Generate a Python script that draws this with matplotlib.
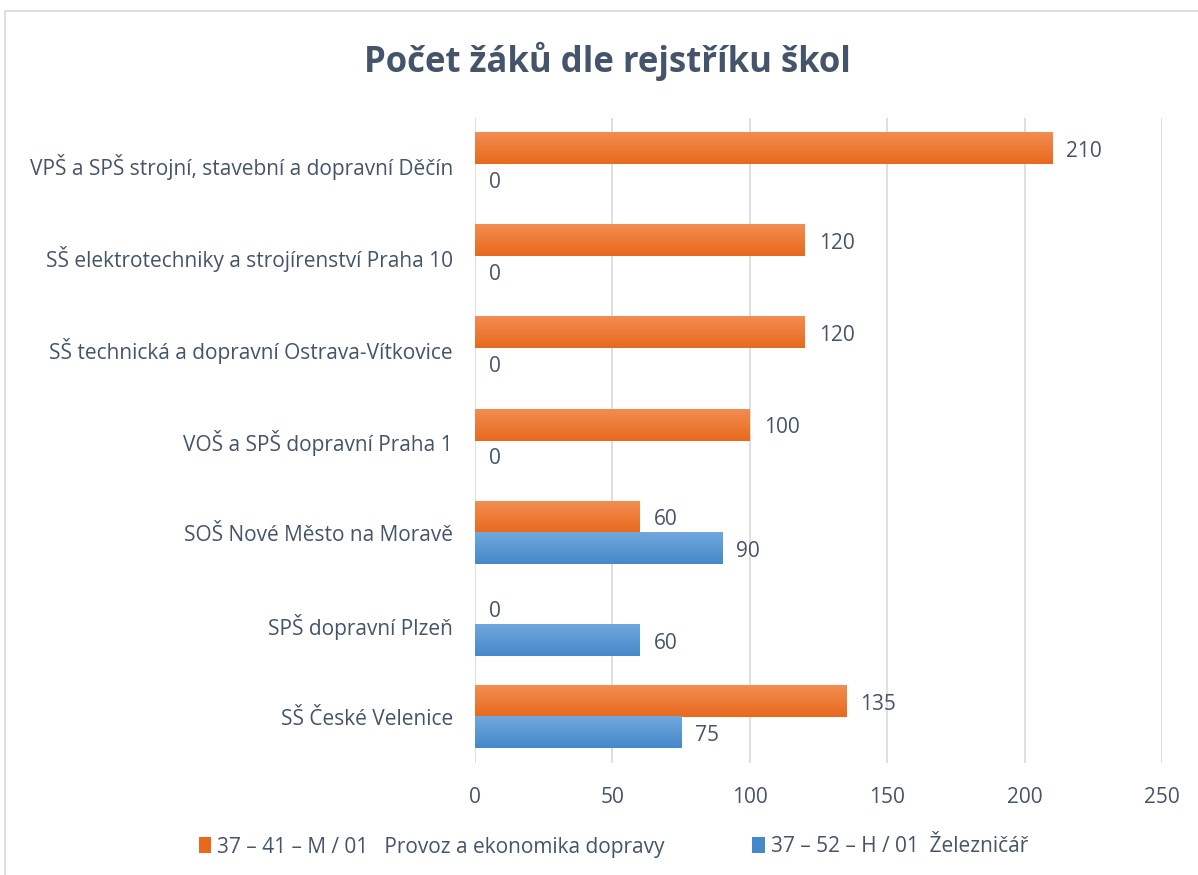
import numpy as np
import matplotlib.pyplot as plt
from matplotlib.patches import Rectangle, Patch
from matplotlib.colors import LinearSegmentedColormap

plt.rcParams["font.family"] = ["Open Sans", "DejaVu Sans"]

schools = [
    "VPŠ a SPŠ strojní, stavební a dopravní Děčín",
    "SŠ elektrotechniky a strojírenství Praha 10",
    "SŠ technická a dopravní Ostrava-Vítkovice",
    "VOŠ a SPŠ dopravní Praha 1",
    "SOŠ Nové Město na Moravě",
    "SPŠ dopravní Plzeň",
    "SŠ České Velenice",
]
provoz = [210, 120, 120, 100, 60, 0, 135]
zeleznicar = [0, 0, 0, 0, 90, 60, 75]
series_names = [
    "37 – 41 – M / 01   Provoz a ekonomika dopravy",
    "37 – 52 – H / 01  Železničář",
]
xticks = [0, 50, 100, 150, 200, 250]

text_col = "#44546A"
orange = ("#F28D52", "#E8691C")
blue = ("#70A7DD", "#4689CA")
fs = 15

fig = plt.figure(figsize=(11.98, 8.75), dpi=100)
ax = fig.add_axes([0.3965, 0.128, 0.5735, 0.737])

# thin chart border
fig.patches.append(Rectangle((0.004, -0.01), 1.2, 0.997, transform=fig.transFigure,
                             fill=False, edgecolor="#D9D9D9", linewidth=1.2))

y = np.arange(len(schools))[::-1]
h = 0.34


def gradient_bars(bars, cols):
    grad = np.linspace(0, 1, 64).reshape(-1, 1)
    cmap = LinearSegmentedColormap.from_list("g", [cols[1], cols[0]])
    for b in bars:
        x0, y0 = b.get_x(), b.get_y()
        w, hh = b.get_width(), b.get_height()
        if w <= 0:
            continue
        ax.imshow(grad, cmap=cmap, extent=(x0, x0 + w, y0, y0 + hh),
                  aspect="auto", origin="lower", zorder=3, interpolation="bicubic")


b1 = ax.barh(y + h / 2, provoz, height=h, color=orange[1], zorder=2)
b2 = ax.barh(y - h / 2, zeleznicar, height=h, color=blue[1], zorder=2)
gradient_bars(b1, orange)
gradient_bars(b2, blue)

for bars, vals in ((b1, provoz), (b2, zeleznicar)):
    for b, v in zip(bars, vals):
        ax.annotate(str(v), (v, b.get_y() + b.get_height() / 2 - 0.03),
                    xytext=(10, 0), textcoords="offset points",
                    ha="left", va="center", fontsize=fs, color=text_col)

ax.set_xlim(0, 250)
ax.set_ylim(-0.5, len(schools) - 0.5)
ax.set_xticks(xticks)
ax.set_yticks(y)
ax.set_yticklabels(schools)
ax.tick_params(axis="both", length=0, labelsize=fs, labelcolor=text_col)
ax.tick_params(axis="y", pad=16)
ax.tick_params(axis="x", pad=17)
ax.grid(True, axis="x", color="#D9D9D9", linewidth=1.2, zorder=0)
ax.set_axisbelow(True)
for s in ax.spines.values():
    s.set_visible(False)

fig.text(0.507, 0.93, "Počet žáků dle rejstříku škol", ha="center", va="center",
         fontsize=25, fontweight="bold", color=text_col)

handles = [Patch(facecolor=orange[1]), Patch(facecolor=blue[1])]
fig.legend(handles, series_names, loc="center", bbox_to_anchor=(0.512, 0.032),
           ncol=2, frameon=False, fontsize=fs, labelcolor=text_col,
           handlelength=0.6, handleheight=0.8, handletextpad=0.3, columnspacing=4.2)

fig.savefig("out.png", dpi=100)
